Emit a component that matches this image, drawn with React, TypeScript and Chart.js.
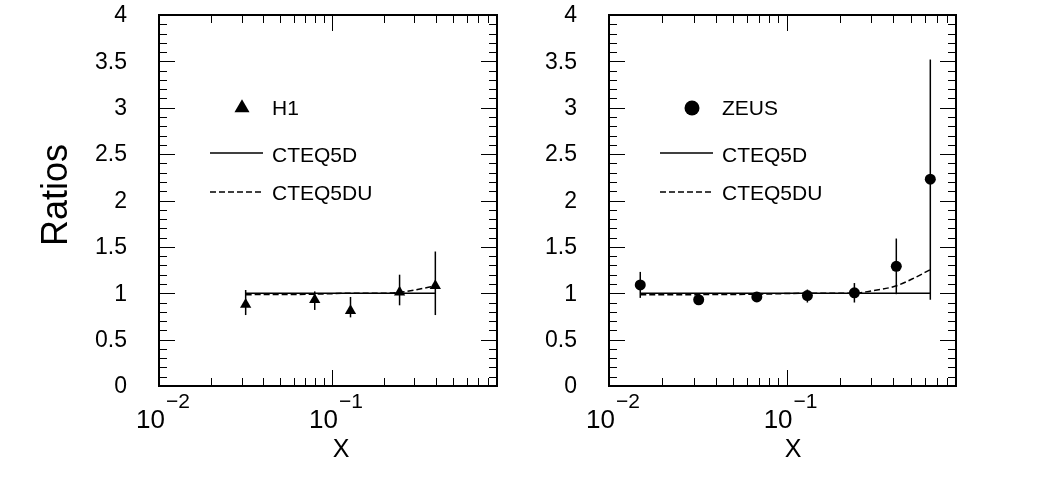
import React, { useEffect, useRef } from 'react';
import { Chart, registerables } from 'chart.js';

Chart.register(...registerables);

// ---------- data ----------
const X_MIN = 0.01;
const X_MAX = 0.9;
const Y_MIN = 0;
const Y_MAX = 4;

const Y_TICK_VALUES = [0, 0.5, 1, 1.5, 2, 2.5, 3, 3.5, 4];
const Y_TICK_LABELS = ['0', '0.5', '1', '1.5', '2', '2.5', '3', '3.5', '4'];
const X_MAJOR_TICKS = [0.01, 0.1];
const X_TICK_BASES = ['10', '10'];
const X_TICK_EXPONENTS = ['\u22122', '\u22121'];
const X_MINOR_TICKS = [0.02, 0.03, 0.04, 0.05, 0.06, 0.07, 0.08, 0.09, 0.2, 0.3, 0.4, 0.5, 0.6, 0.7, 0.8];

const SERIES_NAMES = ['CTEQ5D', 'CTEQ5DU'];

// H1 panel
const H1_X = [0.0317, 0.0795, 0.128, 0.246, 0.396];
const H1_RATIO = [0.88, 0.93, 0.81, 1.01, 1.08];
const H1_ERR_LO = [0.765, 0.82, 0.74, 0.87, 0.765];
const H1_ERR_HI = [1.035, 1.02, 0.96, 1.2, 1.45];
const H1_CTEQ5D_X = [0.0317, 0.396];
const H1_CTEQ5D_Y = [1.0, 1.0];
const H1_CTEQ5DU_X = [0.0317, 0.05, 0.0795, 0.128, 0.2, 0.246, 0.3, 0.396];
const H1_CTEQ5DU_Y = [0.985, 0.986, 0.99, 1.0, 1.0, 1.01, 1.035, 1.08];

// ZEUS panel
const ZEUS_X = [0.015, 0.032, 0.068, 0.131, 0.241, 0.415, 0.645];
const ZEUS_RATIO = [1.09, 0.93, 0.96, 0.975, 1.005, 1.29, 2.23];
const ZEUS_ERR_LO = [0.95, 0.89, 0.92, 0.9, 0.9, 0.99, 0.93];
const ZEUS_ERR_HI = [1.23, 0.97, 1.0, 1.04, 1.11, 1.59, 3.52];
const ZEUS_CTEQ5D_X = [0.015, 0.645];
const ZEUS_CTEQ5D_Y = [1.0, 1.0];
const ZEUS_CTEQ5DU_X = [0.015, 0.07, 0.13, 0.24, 0.29, 0.415, 0.524, 0.645];
const ZEUS_CTEQ5DU_Y = [0.983, 0.99, 1.0, 1.0, 1.02, 1.08, 1.165, 1.255];

const FONT = '"Liberation Sans", Arial, Helvetica, sans-serif';

type PanelCfg = {
  label: string;
  marker: 'triangle' | 'circle';
  x: number[];
  y: number[];
  lo: number[];
  hi: number[];
  dX: number[];
  dY: number[];
  duX: number[];
  duY: number[];
  padding: { left: number; right: number; top: number; bottom: number };
  xTitleOffset: number;
  showYTitle: boolean;
};

function makePlugin(cfg: PanelCfg) {
  return {
    id: 'panelDecor',
    beforeDatasetsDraw(chart: any) {
      const ctx = chart.ctx;
      const xs = chart.scales.x;
      const ys = chart.scales.y;
      ctx.save();
      ctx.strokeStyle = '#000';
      ctx.lineWidth = 1.5;
      for (let i = 0; i < cfg.x.length; i++) {
        const px = xs.getPixelForValue(cfg.x[i]);
        ctx.beginPath();
        ctx.moveTo(px, ys.getPixelForValue(cfg.lo[i]));
        ctx.lineTo(px, ys.getPixelForValue(cfg.hi[i]));
        ctx.stroke();
      }
      ctx.restore();
    },
    afterDraw(chart: any) {
      const ctx = chart.ctx;
      const a = chart.chartArea;
      const xs = chart.scales.x;
      const ys = chart.scales.y;
      ctx.save();
      ctx.strokeStyle = '#000';
      ctx.fillStyle = '#000';
      // frame
      ctx.lineWidth = 2;
      ctx.strokeRect(a.left, a.top, a.right - a.left, a.bottom - a.top);
      // y ticks
      ctx.lineWidth = 1;
      for (let k = 0; k <= 40; k++) {
        const v = k / 10;
        const py = Math.round(ys.getPixelForValue(v)) + 0.5;
        const len = k % 5 === 0 ? 16 : 8;
        ctx.beginPath();
        ctx.moveTo(a.left, py);
        ctx.lineTo(a.left + len, py);
        ctx.moveTo(a.right, py);
        ctx.lineTo(a.right - len, py);
        ctx.stroke();
      }
      // x ticks
      const drawXTick = (v: number, len: number) => {
        const px = Math.round(xs.getPixelForValue(v)) + 0.5;
        ctx.beginPath();
        ctx.moveTo(px, a.bottom);
        ctx.lineTo(px, a.bottom - len);
        ctx.moveTo(px, a.top);
        ctx.lineTo(px, a.top + len);
        ctx.stroke();
      };
      X_MINOR_TICKS.forEach((v) => drawXTick(v, 8));
      X_MAJOR_TICKS.forEach((v) => drawXTick(v, 16));
      // y tick labels
      ctx.font = `23px ${FONT}`;
      ctx.textAlign = 'right';
      ctx.textBaseline = 'middle';
      Y_TICK_VALUES.forEach((v, i) => {
        ctx.fillText(Y_TICK_LABELS[i], a.left - 32, ys.getPixelForValue(v) + 1);
      });
      // x tick labels
      ctx.textBaseline = 'alphabetic';
      X_MAJOR_TICKS.forEach((v, i) => {
        const px = xs.getPixelForValue(v);
        ctx.font = `26px ${FONT}`;
        ctx.textAlign = 'right';
        ctx.fillText(X_TICK_BASES[i], px + 6, a.bottom + 42);
        ctx.font = `21px ${FONT}`;
        ctx.textAlign = 'left';
        ctx.fillText(X_TICK_EXPONENTS[i], px + 7, a.bottom + 22);
      });
      // x title
      ctx.font = `25px ${FONT}`;
      ctx.textAlign = 'center';
      ctx.fillText('X', a.left + cfg.xTitleOffset, a.bottom + 71);
      // y title
      if (cfg.showYTitle) {
        ctx.save();
        ctx.translate(57, 195);
        ctx.rotate(-Math.PI / 2);
        ctx.font = `36px ${FONT}`;
        ctx.textAlign = 'center';
        ctx.textBaseline = 'middle';
        ctx.fillText('Ratios', 0, 0);
        ctx.restore();
      }
      // legend
      const mx = a.left + 83;
      const my = a.top + 93;
      ctx.beginPath();
      if (cfg.marker === 'triangle') {
        const r = 8.7;
        ctx.moveTo(mx, my - r);
        ctx.lineTo(mx + r * 0.866, my + r * 0.5);
        ctx.lineTo(mx - r * 0.866, my + r * 0.5);
        ctx.closePath();
      } else {
        ctx.arc(mx, my, 7.5, 0, Math.PI * 2);
      }
      ctx.fill();
      ctx.font = `21px ${FONT}`;
      ctx.textAlign = 'left';
      ctx.textBaseline = 'middle';
      ctx.fillText(cfg.label, a.left + 113, my + 1);
      ctx.lineWidth = 1.5;
      const l1 = a.top + 138;
      const l2 = a.top + 177;
      ctx.beginPath();
      ctx.moveTo(a.left + 51, l1);
      ctx.lineTo(a.left + 104, l1);
      ctx.stroke();
      ctx.fillText(SERIES_NAMES[0], a.left + 113, l1 + 3);
      ctx.setLineDash([6, 3]);
      ctx.beginPath();
      ctx.moveTo(a.left + 51, l2);
      ctx.lineTo(a.left + 104, l2);
      ctx.stroke();
      ctx.setLineDash([]);
      ctx.fillText(SERIES_NAMES[1], a.left + 113, l2 + 2);
      ctx.restore();
    },
  };
}

function buildConfig(cfg: PanelCfg): any {
  const pts = cfg.x.map((x, i) => ({ x, y: cfg.y[i] }));
  const d = cfg.dX.map((x, i) => ({ x, y: cfg.dY[i] }));
  const du = cfg.duX.map((x, i) => ({ x, y: cfg.duY[i] }));
  return {
    type: 'scatter',
    data: {
      datasets: [
        {
          label: SERIES_NAMES[1],
          data: du,
          showLine: true,
          borderColor: '#000',
          borderWidth: 1.5,
          borderDash: [6, 3],
          pointRadius: 0,
          cubicInterpolationMode: 'monotone',
          fill: false,
        },
        {
          label: SERIES_NAMES[0],
          data: d,
          showLine: true,
          borderColor: '#000',
          borderWidth: 1.5,
          pointRadius: 0,
          fill: false,
        },
        {
          label: cfg.label,
          data: pts,
          showLine: false,
          pointStyle: cfg.marker,
          pointRadius: cfg.marker === 'triangle' ? 6.5 : 5.5,
          backgroundColor: '#000',
          borderColor: '#000',
          borderWidth: 0,
        },
      ],
    },
    options: {
      responsive: false,
      animation: false,
      devicePixelRatio: 1,
      layout: { padding: cfg.padding },
      scales: {
        x: { type: 'logarithmic', min: X_MIN, max: X_MAX, display: false },
        y: { type: 'linear', min: Y_MIN, max: Y_MAX, display: false },
      },
      plugins: {
        legend: { display: false },
        tooltip: { enabled: false },
      },
      events: [],
    },
    plugins: [makePlugin(cfg)],
  };
}

const LEFT_CFG: PanelCfg = {
  label: 'H1',
  marker: 'triangle',
  x: H1_X,
  y: H1_RATIO,
  lo: H1_ERR_LO,
  hi: H1_ERR_HI,
  dX: H1_CTEQ5D_X,
  dY: H1_CTEQ5D_Y,
  duX: H1_CTEQ5DU_X,
  duY: H1_CTEQ5DU_Y,
  padding: { left: 159, right: 32, top: 15, bottom: 100 },
  xTitleOffset: 182,
  showYTitle: true,
};

const RIGHT_CFG: PanelCfg = {
  label: 'ZEUS',
  marker: 'circle',
  x: ZEUS_X,
  y: ZEUS_RATIO,
  lo: ZEUS_ERR_LO,
  hi: ZEUS_ERR_HI,
  dX: ZEUS_CTEQ5D_X,
  dY: ZEUS_CTEQ5D_Y,
  duX: ZEUS_CTEQ5DU_X,
  duY: ZEUS_CTEQ5DU_Y,
  padding: { left: 80, right: 102, top: 15, bottom: 100 },
  xTitleOffset: 184,
  showYTitle: false,
};

function Panel({ cfg, left }: { cfg: PanelCfg; left: number }) {
  const ref = useRef<HTMLCanvasElement | null>(null);
  useEffect(() => {
    if (!ref.current) return;
    const chart = new Chart(ref.current, buildConfig(cfg));
    return () => chart.destroy();
  }, [cfg]);
  return (
    <canvas
      ref={ref}
      width={529}
      height={486}
      style={{ position: 'absolute', left, top: 0, width: 529, height: 486 }}
    />
  );
}

export default function App() {
  return (
    <div
      style={{
        position: 'fixed',
        left: 0,
        top: 0,
        width: 1058,
        height: 486,
        background: '#fff',
        overflow: 'hidden',
      }}
    >
      <Panel cfg={LEFT_CFG} left={0} />
      <Panel cfg={RIGHT_CFG} left={529} />
    </div>
  );
}
